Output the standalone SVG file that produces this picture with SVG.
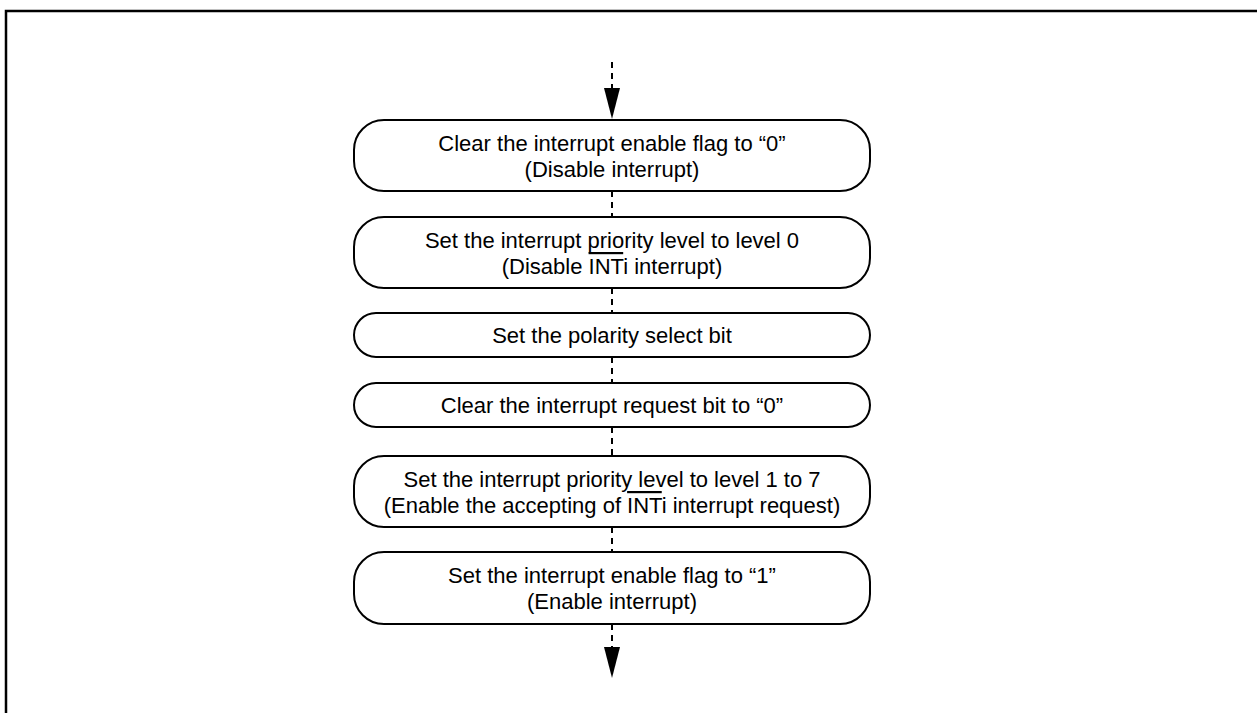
<svg xmlns="http://www.w3.org/2000/svg" width="1257" height="713" viewBox="0 0 1257 713">
  <defs>
    <style>
      .frame { fill: none; stroke: #000; stroke-width: 2.5; }
      .box { fill: #fff; stroke: #000; stroke-width: 2; }
      .lbl { font-family: "Liberation Sans", Arial, sans-serif; font-size: 22px; fill: #000; text-anchor: middle; }
      .conn { fill: none; stroke: #000; stroke-width: 2; stroke-dasharray: 6 5; }
      .ov { text-decoration: overline; }
    </style>
    <marker id="arrow" viewBox="0 0 31 16" refX="0" refY="8" markerWidth="31" markerHeight="16" markerUnits="userSpaceOnUse" orient="auto">
      <path d="M0,0 L31,8 L0,16 Z" fill="#000"/>
    </marker>
  </defs>

  <g id="frame">
    <path class="frame" d="M6,713 L6,11 L1257,11"/>
  </g>

  <g id="connectors">
    <line class="conn" x1="612" y1="62" x2="612" y2="88" marker-end="url(#arrow)"/>
    <line class="conn" x1="612" y1="191" x2="612" y2="217"/>
    <line class="conn" x1="612" y1="288" x2="612" y2="313"/>
    <line class="conn" x1="612" y1="357" x2="612" y2="383"/>
    <line class="conn" x1="612" y1="427" x2="612" y2="456"/>
    <line class="conn" x1="612" y1="527" x2="612" y2="552"/>
    <line class="conn" x1="612" y1="624" x2="612" y2="647" marker-end="url(#arrow)"/>
  </g>

  <g id="n1">
    <rect class="box" x="354" y="120" width="516" height="71" rx="30" ry="30"/>
    <text class="lbl" x="612" y="151">Clear the interrupt enable flag to “0”</text>
    <text class="lbl" x="612" y="177">(Disable interrupt)</text>
  </g>

  <g id="n2">
    <rect class="box" x="354" y="217" width="516" height="71" rx="30" ry="30"/>
    <text class="lbl" x="612" y="248">Set the interrupt priority level to level 0</text>
    <text class="lbl" x="612" y="274">(Disable <tspan class="ov">INT</tspan>i interrupt)</text>
  </g>

  <g id="n3">
    <rect class="box" x="354" y="313" width="516" height="44" rx="22" ry="22"/>
    <text class="lbl" x="612" y="343">Set the polarity select bit</text>
  </g>

  <g id="n4">
    <rect class="box" x="354" y="383" width="516" height="44" rx="22" ry="22"/>
    <text class="lbl" x="612" y="413">Clear the interrupt request bit to “0”</text>
  </g>

  <g id="n5">
    <rect class="box" x="354" y="456" width="516" height="71" rx="30" ry="30"/>
    <text class="lbl" x="612" y="487">Set the interrupt priority level to level 1 to 7</text>
    <text class="lbl" x="612" y="513">(Enable the accepting of <tspan class="ov">INT</tspan>i interrupt request)</text>
  </g>

  <g id="n6">
    <rect class="box" x="354" y="552" width="516" height="72" rx="30" ry="30"/>
    <text class="lbl" x="612" y="583">Set the interrupt enable flag to “1”</text>
    <text class="lbl" x="612" y="609">(Enable interrupt)</text>
  </g>
</svg>
